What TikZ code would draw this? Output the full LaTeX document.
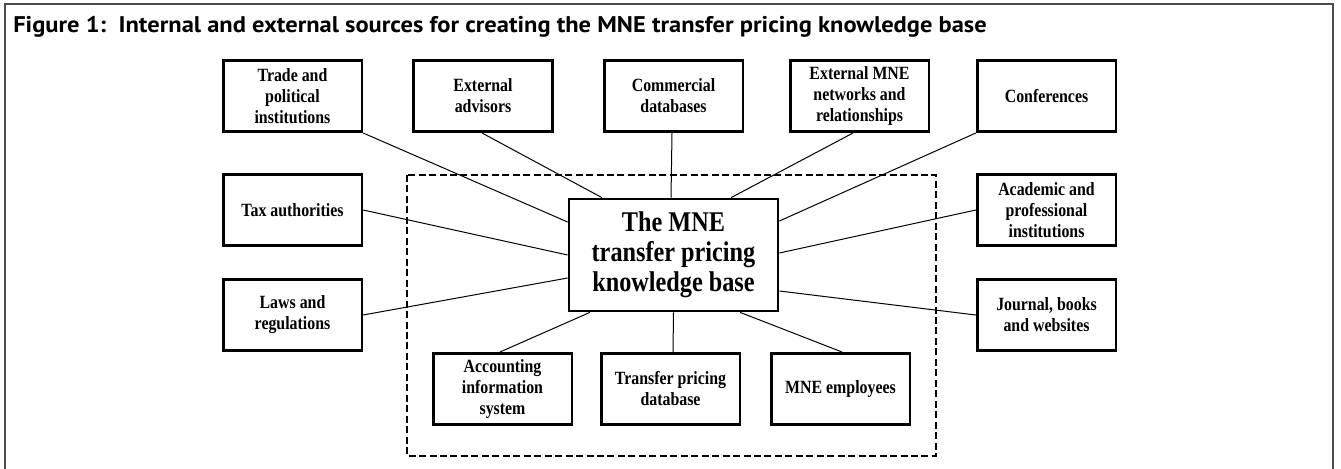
\documentclass[tikz,border=0pt]{standalone}
\usepackage{fontspec}
\usetikzlibrary{calc}
\newfontfamily\boxfont[FakeStretch=0.85]{Liberation Serif}
\newfontfamily\titlefont[FakeStretch=1.08]{PT Sans}
\begin{document}
\begin{tikzpicture}[x=0.75pt,y=-0.75pt,
  srcbox/.style={draw=black,line width=2pt,rectangle,minimum width=104pt,minimum height=53.5pt,
    inner sep=0pt,align=center,font=\boxfont\bfseries\fontsize{14pt}{15.75pt}\selectfont},
  hubbox/.style={draw=black,line width=2pt,rectangle,minimum width=156.8pt,minimum height=84pt,
    inner sep=0pt,align=center,font=\boxfont\bfseries\fontsize{21.4pt}{22.5pt}\selectfont},
  link/.style={draw=black,line width=0.75pt},
  groupframe/.style={draw=black,line width=2pt,dash pattern=on 5.25pt off 2.6pt},
  outerframe/.style={draw=black!70,line width=1pt}]
\useasboundingbox (0,0) rectangle (1341,468);
\draw[outerframe] (5,470) -- (5,4) -- (1333,4) -- (1333,470);
\node[anchor=base west,inner sep=0pt,font=\titlefont\bfseries\fontsize{17pt}{20pt}\selectfont] (title) at (13,32)
  {Figure 1:\ \ Internal and external sources for creating the MNE transfer pricing knowledge base};
\draw[groupframe] (407,175) rectangle (936,456);
\node[hubbox] (hub) at (673.5,255) {The MNE\\transfer pricing\\knowledge base};
\node[srcbox] (trade) at (292.5,96) {Trade and\\political\\institutions};
\node[srcbox] (adv) at (483,96) {External\\advisors};
\node[srcbox] (comm) at (673.5,96) {Commercial\\databases};
\node[srcbox] (extmne) at (859.5,96) {External MNE\\networks and\\relationships};
\node[srcbox] (conf) at (1046.5,96) {Conferences};
\node[srcbox] (tax) at (292.5,210) {Tax authorities};
\node[srcbox] (laws) at (292.5,315) {Laws and\\regulations};
\node[srcbox] (acad) at (1046.5,210) {Academic and\\professional\\institutions};
\node[srcbox] (journ) at (1046.5,315) {Journal, books\\and websites};
\node[srcbox] (acc) at (502.5,389) {Accounting\\information\\system};
\node[srcbox] (tpdb) at (670.5,389) {Transfer pricing\\database};
\node[srcbox] (emp) at (840.5,389) {MNE employees};
\draw[link] (trade.south east) -- ($(hub.west)+(0,-33)$);
\draw[link] ($(adv.south)+(-1,0)$) -- ($(hub.north)+(-71.5,0)$);
\draw[link] ($(comm.south)+(-1.5,0)$) -- ($(hub.north)+(-2.5,0)$);
\draw[link] ($(extmne.south)+(-6.5,0)$) -- ($(hub.north)+(57.5,0)$);
\draw[link] (conf.south west) -- ($(hub.east)+(0,-34)$);
\draw[link] (tax.east) -- (hub.west);
\draw[link] (laws.east) -- ($(hub.west)+(0,23)$);
\draw[link] (acad.west) -- ($(hub.east)+(0,-2)$);
\draw[link] (journ.west) -- ($(hub.east)+(0,36)$);
\draw[link] ($(acc.north)+(-2.5,0)$) -- ($(hub.south)+(-83.5,0)$);
\draw[link] ($(tpdb.north)+(2.5,0)$) -- (hub.south);
\draw[link] ($(emp.north)+(1.5,0)$) -- ($(hub.south)+(66.5,0)$);
\end{tikzpicture}
\end{document}
